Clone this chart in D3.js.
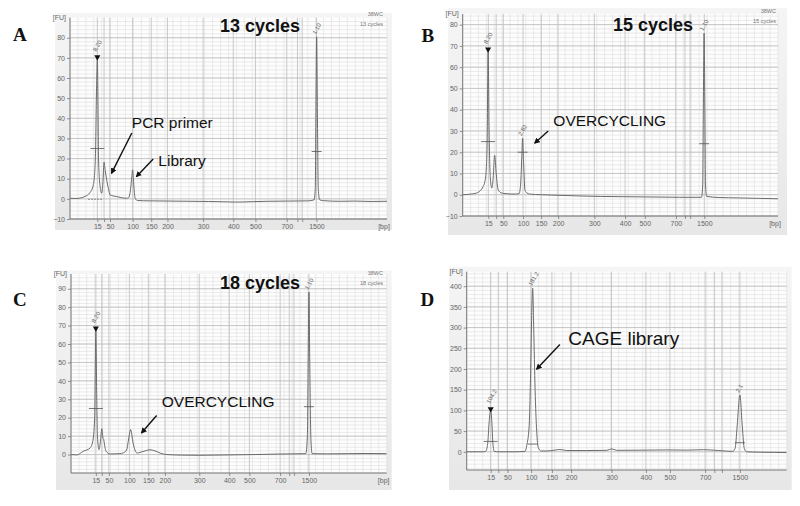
<!DOCTYPE html>
<html>
<head>
<meta charset="utf-8">
<script src="https://cdn.jsdelivr.net/npm/d3@7"></script>
<style>
    body{margin:0;background:#fff;}
    svg{display:block;font-family:"Liberation Sans",Arial,sans-serif;}
    .plotBg{fill:#fdfdfd;}
    .gridMinor{stroke:#dedede;stroke-width:0.6;}
    .gridMajor{stroke:#bdbdbd;stroke-width:0.8;}
    .trace{fill:none;stroke:#6a6a6a;stroke-width:1;}
    .axis path, .axis line{stroke:#777;stroke-width:0.8;}
    .axis text{fill:#666;font-size:7px;}
    .unit{fill:#666;font-size:7px;}
    .peakLbl{fill:#666;font-size:6px;}
    .halfMark{stroke:#555;stroke-width:0.8;}
    .runTitle{font-size:18px;font-weight:bold;fill:#111;}
    .sample{fill:#777;font-size:5.5px;}
    .note{font-size:15.5px;fill:#111;}
    .noteArrow{stroke:#111;stroke-width:1.4;}
    .panelLetter{font-family:"Liberation Serif","Times New Roman",serif;font-weight:bold;font-size:19px;fill:#111;}
</style>
</head>
<body>
<script>
//pseudo-global variables
var tStart = 40, tEnd = 120; //migration time window of each run [s]

//DNA 1000 ladder sizes [bp] and the ones that carry a label
var ladderSizes = [15, 25, 50, 100, 150, 200, 300, 400, 500, 700, 850, 1000, 1500];
var ladderLabels = ["15", "", "50", "100", "150", "200", "300", "400", "500", "700", "", "", "1500"];

//ladder migration time for each run [s]
var ladderTimeA = [46.9, 48.6, 50.1, 55.8, 60.5, 64.6, 73.6, 81.2, 86.8, 94.7, 97.4, 98.6, 102.2];
var ladderTimeB = [46.5, 48.5, 50.3, 55.3, 59.9, 64.2, 73.4, 81.2, 86.2, 94.1, 96.4, 97.7, 101.3];
var ladderTimeC = [46.3, 47.8, 49.6, 54.8, 59.6, 63.8, 72.5, 80.1, 85.2, 93.0, 95.3, 96.5, 100.3];
var ladderTimeD = [46.0, 47.9, 50.2, 56.1, 61.3, 66.1, 76.2, 84.8, 90.8, 99.6, 101.9, 103.8, 108.3];

//electropherogram traces [time s, FU]
var traceA = [[40, 0.3], [41.5, 0.2], [43, 0.6], [43.8, 1.2], [45, 3], [45.9, 7], [46.4, 20], [46.7, 55], [46.9, 70],
    [47.05, 50], [47.2, 20], [47.6, 6], [48.0, 2.8], [48.3, 8], [48.6, 18.2], [48.9, 14], [49.3, 9], [49.7, 5],
    [50.1, 2], [51, 1.4], [51.8, 1.1], [53, 0.6], [54.3, 0.3], [54.8, 0.6], [55.3, 5], [55.6, 11], [55.8, 14.4],
    [56.0, 10], [56.2, 4], [56.5, 0], [57, -0.8], [60, -1], [65, -1.1], [70, -1.2], [75, -1.3], [80, -1.5],
    [82, -1.6], [86, -1.4], [90, -1.2], [95, -1.1], [100, -1.0], [101.6, -0.5], [101.9, 5], [102.05, 40],
    [102.25, 80.5], [102.45, 40], [102.65, 5], [103, -0.5], [104, -0.9], [108, -1.2], [112, -1.1], [116, -1.3], [120, -1.2]];
var traceB = [[40, 0], [42, 0.3], [43.5, 0.8], [44.4, 1.8], [45.2, 3.9], [45.6, 6], [45.9, 10], [46.2, 25], [46.45, 68],
    [46.7, 30], [47.0, 8], [47.4, 3.1], [47.7, 7], [48.1, 18.5], [48.5, 10], [49.0, 2.3], [49.9, 0.8], [51, 0.5],
    [53, 0.3], [54.3, 0.5], [54.7, 5], [55.0, 18], [55.2, 26.6], [55.45, 15], [55.8, 2], [56.2, 1], [57, 0.3],
    [60, 0], [65, -0.3], [70, -0.6], [75, -0.8], [80, -0.9], [85, -1.0], [90, -1.1], [95, -1.2], [100.6, -1.2],
    [100.9, 5], [101.05, 40], [101.25, 76], [101.45, 40], [101.6, 5], [101.9, -0.8], [105, -1.3], [110, -1.5],
    [115, -1.7], [120, -1.9]];
var traceC = [[40, 0], [41.5, -0.2], [43.1, 1.8], [44.8, 3.5], [45.5, 7], [46.0, 20], [46.3, 68], [46.5, 35], [46.7, 10],
    [47.1, 2.7], [47.5, 8], [47.8, 14], [48.1, 9], [48.3, 8], [48.6, 4], [48.9, 1.8], [49.9, 0.3], [52.4, 0.5],
    [53.3, 1], [54.1, 2.5], [54.5, 7], [54.8, 11], [55.1, 13.6], [55.4, 11], [55.6, 8], [56.2, 2.5], [56.8, 0.8],
    [57.5, 1.2], [58.8, 2], [60.0, 2.6], [61.3, 2], [62.6, 0.8], [64.3, 0], [68, -0.3], [72.7, -0.4], [80, -0.2],
    [86, 0], [93, 0.3], [99.5, 0.5], [99.9, 10], [100.1, 50], [100.3, 88.2], [100.5, 50], [100.8, 8], [101.1, 0.5],
    [105, 0.4], [110, 0.5], [115, 0.6], [120, 0.5]];
var traceD = [[40, 0], [44, 0], [44.75, 1], [45.25, 20], [45.6, 70], [46.0, 101], [46.3, 70], [46.55, 20], [46.9, 1],
    [48, 0], [52, 0], [54.6, 1], [55.0, 15], [55.6, 60], [56.0, 200], [56.25, 330], [56.5, 395], [56.75, 300],
    [57.1, 150], [57.5, 50], [57.9, 10], [58.6, 2], [60, 2], [62, 4], [63.3, 5.5], [65, 3], [70, 3], [75, 3.5],
    [76.25, 7], [77.5, 3.5], [85, 4], [90, 4.5], [95, 4], [99.2, 5], [103, 3], [106.5, 1], [107.1, 8], [107.6, 60],
    [108.3, 137], [108.9, 60], [109.4, 8], [110, 0], [113, -1], [117, -1.5], [120, -2]];

//peak calls [time, FU, label] - first one is the lower marker
var peaksA = [[46.9, 70, "8.20"], [102.25, 80.5, "1.10"]];
var peaksB = [[46.45, 68, "8.20"], [55.2, 26.6, "2.82"], [101.25, 76, "1.10"]];
var peaksC = [[46.3, 68, "8.20"], [100.3, 88.2, "1.10"]];
var peaksD = [[46.0, 101, "104.2"], [56.5, 395, "181.2"], [108.3, 137, "2.1"]];

//half height marks [time, FU]
var halfA = [[46.9, 25], [102.25, 23.5]];
var halfB = [[46.45, 25], [55.2, 20], [101.25, 24]];
var halfC = [[46.3, 25], [100.3, 26]];
var halfD = [[46.0, 25], [56.5, 18.6], [108.3, 22]];

//fluorescence range, ticks and minor grid step
var fuDomainA = [-10, 90], fuTicksA = [-10, 0, 10, 20, 30, 40, 50, 60, 70, 80];
var fuDomainB = [-10, 85], fuTicksB = [-10, 0, 10, 20, 30, 40, 50, 60, 70, 80];
var fuDomainC = [-10, 98], fuTicksC = [0, 10, 20, 30, 40, 50, 60, 70, 80, 90];
var fuDomainD = [-44, 435], fuTicksD = [0, 50, 100, 150, 200, 250, 300, 350, 400];

var runTitles = ["13 cycles", "15 cycles", "18 cycles", ""];
var sampleNames = ["38WC", "38WC", "38WC", ""];
var sampleRuns = ["13 cycles", "15 cycles", "18 cycles", ""];

//call-outs: text anchor, arrow start and arrow tip in [time, FU]
var notesA = [{text: "PCR primer", at: [55.6, 35.2], from: [55.6, 32.7], to: [50.5, 12.8]},
              {text: "Library", at: [62.3, 16.1], from: [61.0, 19.8], to: [56.8, 11.1]}];
var notesB = [{text: "OVERCYCLING", at: [63.0, 32.1], from: [61.7, 30], to: [58.3, 24.3]}];
var notesC = [{text: "OVERCYCLING", at: [63.0, 25.9], from: [61.7, 21.2], to: [57.9, 11.8]}];
var notesD = [{text: "CAGE library", at: [65.4, 257.7], from: [63.3, 259.4], to: [57.5, 199.8]}];

//dotted integration baseline under the marker peaks of run A [time from, time to]
var baselineA = [44.6, 48.4];

//begin script when window loads
window.onload = setPage();

function setPage(){
    var width = 800,
        height = 506;

    var svg = d3.select("body")
        .append("svg")
        .attr("width", width)
        .attr("height", height);

    //frame gradient shared by all four panels
    var defs = svg.append("defs");
    var grad = defs.append("linearGradient")
        .attr("id", "frameGrad")
        .attr("x1", 0).attr("y1", 0).attr("x2", 0).attr("y2", 1);
    grad.append("stop").attr("offset", "0%").attr("stop-color", "#f5f5f5");
    grad.append("stop").attr("offset", "100%").attr("stop-color", "#e7e7e7");

    //arrow head for call-outs
    defs.append("marker")
        .attr("id", "arrowHead")
        .attr("viewBox", "0 0 10 10")
        .attr("refX", 8).attr("refY", 5)
        .attr("markerWidth", 6).attr("markerHeight", 6)
        .attr("markerUnits", "userSpaceOnUse")
        .attr("orient", "auto")
        .append("path")
        .attr("d", "M0,0L10,5L0,10z")
        .attr("fill", "#111");

    //panel layout
    var panels = [
        {letter: "A", letterAt: [13, 41], frame: [55, 13, 392, 230], plot: [70, 17.6, 387, 219],
         titleAt: [260, 32], sampleAt: [383, 16], fuMinor: 2,
         ladder: ladderTimeA, trace: traceA, peaks: peaksA, half: halfA,
         fuDomain: fuDomainA, fuTicks: fuTicksA, notes: notesA, baseline: baselineA, bpLabel: true},
        {letter: "B", letterAt: [421.5, 41.5], frame: [448, 8, 787, 235], plot: [462.7, 14, 778, 216],
         titleAt: [653, 30.7], sampleAt: [776, 13], fuMinor: 2,
         ladder: ladderTimeB, trace: traceB, peaks: peaksB, half: halfB,
         fuDomain: fuDomainB, fuTicks: fuTicksB, notes: notesB, baseline: null, bpLabel: true},
        {letter: "C", letterAt: [13, 306], frame: [56, 270.7, 391.7, 490], plot: [71, 274, 386.7, 473],
         titleAt: [260, 289.3], sampleAt: [383, 275], fuMinor: 2,
         ladder: ladderTimeC, trace: traceC, peaks: peaksC, half: halfC,
         fuDomain: fuDomainC, fuTicks: fuTicksC, notes: notesC, baseline: null, bpLabel: true},
        {letter: "D", letterAt: [420.5, 306], frame: [449, 266.7, 791.7, 490], plot: [466.7, 271.7, 786.7, 470],
         titleAt: [620, 290], sampleAt: [780, 275], fuMinor: 10,
         ladder: ladderTimeD, trace: traceD, peaks: peaksD, half: halfD,
         fuDomain: fuDomainD, fuTicks: fuTicksD, notes: notesD, baseline: null, bpLabel: false}
    ];

    panels.forEach(function(p, i){
        drawPanel(svg, p, i);
    });
};

//draw one electropherogram
function drawPanel(svg, p, i){
    var g = svg.append("g").attr("class", "panel" + p.letter);

    var x = d3.scaleLinear()
        .domain([tStart, tEnd])
        .range([p.plot[0], p.plot[2]]);
    var y = d3.scaleLinear()
        .domain(p.fuDomain)
        .range([p.plot[3], p.plot[1]]);

    //panel letter
    g.append("text")
        .attr("class", "panelLetter")
        .attr("x", p.letterAt[0])
        .attr("y", p.letterAt[1])
        .text(p.letter);

    //grey instrument frame and plot background
    g.append("rect")
        .attr("x", p.frame[0]).attr("y", p.frame[1])
        .attr("width", p.frame[2] - p.frame[0])
        .attr("height", p.frame[3] - p.frame[1])
        .attr("fill", "url(#frameGrad)");
    g.append("rect")
        .attr("class", "plotBg")
        .attr("x", p.plot[0]).attr("y", p.plot[1])
        .attr("width", p.plot[2] - p.plot[0])
        .attr("height", p.plot[3] - p.plot[1]);

    //minor grid
    g.selectAll(".vMinor")
        .data(d3.range(tStart, tEnd + 0.01, 2))
        .enter()
        .append("line")
        .attr("class", "gridMinor")
        .attr("x1", function(d){ return x(d); })
        .attr("x2", function(d){ return x(d); })
        .attr("y1", p.plot[1]).attr("y2", p.plot[3]);
    g.selectAll(".hMinor")
        .data(d3.range(Math.ceil(p.fuDomain[0] / p.fuMinor) * p.fuMinor, p.fuDomain[1], p.fuMinor))
        .enter()
        .append("line")
        .attr("class", "gridMinor")
        .attr("x1", p.plot[0]).attr("x2", p.plot[2])
        .attr("y1", function(d){ return y(d); })
        .attr("y2", function(d){ return y(d); });

    //major grid at ladder peaks and FU ticks
    g.selectAll(".vMajor")
        .data(p.ladder)
        .enter()
        .append("line")
        .attr("class", "gridMajor")
        .attr("x1", function(d){ return x(d); })
        .attr("x2", function(d){ return x(d); })
        .attr("y1", p.plot[1]).attr("y2", p.plot[3]);
    g.selectAll(".hMajor")
        .data(p.fuTicks)
        .enter()
        .append("line")
        .attr("class", "gridMajor")
        .attr("x1", p.plot[0]).attr("x2", p.plot[2])
        .attr("y1", function(d){ return y(d); })
        .attr("y2", function(d){ return y(d); });

    //axes
    var xAxis = d3.axisBottom(x)
        .tickValues(p.ladder)
        .tickSize(3)
        .tickPadding(2)
        .tickFormat(function(d, k){ return ladderLabels[k]; });
    g.append("g")
        .attr("class", "axis")
        .attr("transform", "translate(0," + p.plot[3] + ")")
        .call(xAxis);

    var yAxis = d3.axisLeft(y)
        .tickValues(p.fuTicks)
        .tickSize(3)
        .tickPadding(2);
    g.append("g")
        .attr("class", "axis")
        .attr("transform", "translate(" + p.plot[0] + ",0)")
        .call(yAxis);

    g.selectAll(".axis .domain")
        .attr("d", null);
    g.append("line")
        .attr("x1", p.plot[0]).attr("x2", p.plot[2])
        .attr("y1", p.plot[3]).attr("y2", p.plot[3])
        .attr("stroke", "#777");
    g.append("line")
        .attr("x1", p.plot[0]).attr("x2", p.plot[0])
        .attr("y1", p.plot[1]).attr("y2", p.plot[3])
        .attr("stroke", "#777");

    //unit labels
    g.append("text")
        .attr("class", "unit")
        .attr("x", p.plot[0] - 4)
        .attr("y", p.plot[1] + 2)
        .attr("text-anchor", "end")
        .text("[FU]");
    if (p.bpLabel){
        g.append("text")
            .attr("class", "unit")
            .attr("x", p.plot[2] - 3)
            .attr("y", p.plot[3] + 10)
            .attr("text-anchor", "middle")
            .text("[bp]");
    };

    //clip for the trace
    var clipId = "clip" + p.letter;
    svg.select("defs").append("clipPath")
        .attr("id", clipId)
        .append("rect")
        .attr("x", p.plot[0]).attr("y", p.plot[1] - 8)
        .attr("width", p.plot[2] - p.plot[0])
        .attr("height", p.plot[3] - p.plot[1] + 8);

    //dotted integration baseline
    if (p.baseline){
        g.append("line")
            .attr("x1", x(p.baseline[0])).attr("x2", x(p.baseline[1]))
            .attr("y1", y(-0.2)).attr("y2", y(-0.2))
            .attr("stroke", "#555")
            .attr("stroke-width", 0.8)
            .attr("stroke-dasharray", "1.5,1.5");
    };

    //trace line
    var line = d3.line()
        .x(function(d){ return x(d[0]); })
        .y(function(d){ return y(d[1]); })
        .curve(d3.curveMonotoneX);
    g.append("path")
        .datum(p.trace)
        .attr("class", "trace")
        .attr("clip-path", "url(#" + clipId + ")")
        .attr("d", line);

    //half height marks
    g.selectAll(".halfMark")
        .data(p.half)
        .enter()
        .append("line")
        .attr("class", "halfMark")
        .attr("x1", function(d, k){ return x(d[0]) - (k == 0 ? 7 : 5); })
        .attr("x2", function(d, k){ return x(d[0]) + (k == 0 ? 7 : 5); })
        .attr("y1", function(d){ return y(d[1]); })
        .attr("y2", function(d){ return y(d[1]); });

    //lower marker triangle
    var lm = p.peaks[0];
    g.append("path")
        .attr("d", d3.symbol().type(d3.symbolTriangle).size(16)())
        .attr("transform", "translate(" + x(lm[0]) + "," + (y(lm[1]) - 1) + ") rotate(180)")
        .attr("fill", "#111");

    //rotated peak call labels
    g.selectAll(".peakLbl")
        .data(p.peaks)
        .enter()
        .append("text")
        .attr("class", "peakLbl")
        .attr("transform", function(d, k){
            var lift = k == 0 ? 6 : 2;
            return "translate(" + (x(d[0]) - 1) + "," + (y(d[1]) - lift) + ") rotate(-60)";
        })
        .text(function(d){ return d[2]; });

    //run title and sample name
    if (runTitles[i]){
        g.append("text")
            .attr("class", "runTitle")
            .attr("x", p.titleAt[0])
            .attr("y", p.titleAt[1])
            .attr("text-anchor", "middle")
            .text(runTitles[i]);
        g.append("text")
            .attr("class", "sample")
            .attr("x", p.sampleAt[0])
            .attr("y", p.sampleAt[1])
            .attr("text-anchor", "end")
            .text(sampleNames[i]);
        g.append("text")
            .attr("class", "sample")
            .attr("x", p.sampleAt[0])
            .attr("y", p.sampleAt[1] + 10)
            .attr("text-anchor", "end")
            .text(sampleRuns[i]);
    };

    //call-outs with arrows
    p.notes.forEach(function(n){
        g.append("line")
            .attr("class", "noteArrow")
            .attr("x1", x(n.from[0])).attr("y1", y(n.from[1]))
            .attr("x2", x(n.to[0])).attr("y2", y(n.to[1]))
            .attr("marker-end", "url(#arrowHead)");
        g.append("text")
            .attr("class", "note")
            .attr("x", x(n.at[0]))
            .attr("y", y(n.at[1]))
            .style("font-size", p.letter == "D" ? "19px" : null)
            .text(n.text);
    });
};
</script>
</body>
</html>
